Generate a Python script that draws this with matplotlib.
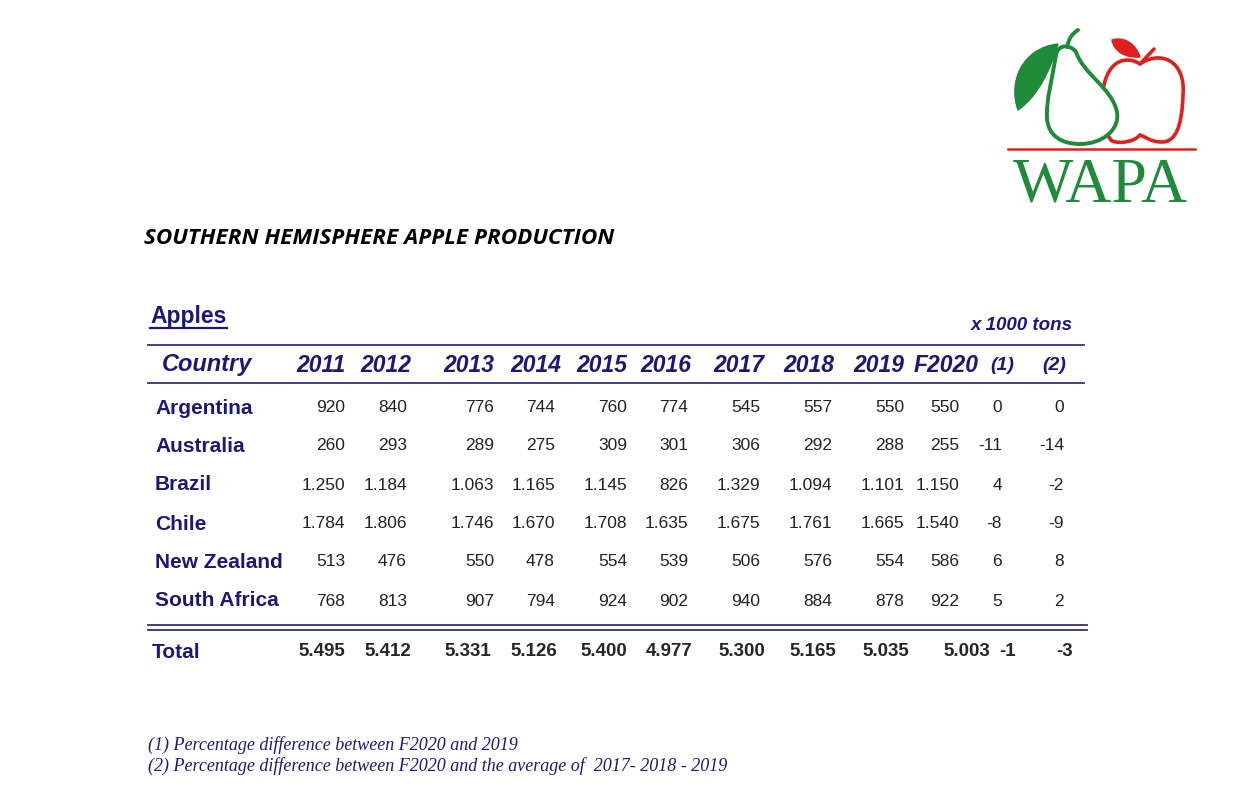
import matplotlib
matplotlib.use("Agg")
import matplotlib.pyplot as plt
from matplotlib.path import Path
from matplotlib.patches import PathPatch

# ---------------- data ----------------
title = "SOUTHERN HEMISPHERE APPLE PRODUCTION"
section = "Apples"
unit = "x 1000 tons"
columns = ["2011", "2012", "2013", "2014", "2015", "2016", "2017", "2018", "2019", "F2020", "(1)", "(2)"]
countries = ["Argentina", "Australia", "Brazil", "Chile", "New Zealand", "South Africa"]
argentina = [920, 840, 776, 744, 760, 774, 545, 557, 550, 550, 0, 0]
australia = [260, 293, 289, 275, 309, 301, 306, 292, 288, 255, -11, -14]
brazil = [1250, 1184, 1063, 1165, 1145, 826, 1329, 1094, 1101, 1150, 4, -2]
chile = [1784, 1806, 1746, 1670, 1708, 1635, 1675, 1761, 1665, 1540, -8, -9]
new_zealand = [513, 476, 550, 478, 554, 539, 506, 576, 554, 586, 6, 8]
south_africa = [768, 813, 907, 794, 924, 902, 940, 884, 878, 922, 5, 2]
total = [5495, 5412, 5331, 5126, 5400, 4977, 5300, 5165, 5035, 5003, -1, -3]
footnotes = ["(1) Percentage difference between F2020 and 2019",
             "(2) Percentage difference between F2020 and the average of  2017- 2018 - 2019"]
rows = [argentina, australia, brazil, chile, new_zealand, south_africa]

# ---------------- layout ----------------
W, H = 1235, 793
NAVY = "#1c1878"
LINE = "#2e2e8a"
NUM = "#222222"
GREEN = "#1e8a3a"
RED = "#e0201c"

fig = plt.figure(figsize=(W / 100, H / 100), dpi=100)
ax = fig.add_axes([0, 0, 1, 1])
ax.set_xlim(0, W)
ax.set_ylim(H, 0)
ax.axis("off")

SANS = ["Liberation Sans", "DejaVu Sans"]


def fmt(v, pct=False):
    if pct:
        return str(v)
    return f"{v:,}".replace(",", ".")


# title
ax.text(144, 239, title, fontsize=16.2, fontweight="bold", fontstyle="italic",
        family=["Open Sans", "DejaVu Sans"], color="black", va="center", ha="left")

# Apples heading
ax.text(150, 316, section, fontsize=16.5, fontweight="bold", family=SANS,
        color=NAVY, va="center", ha="left")
ax.plot([150, 227], [328, 328], color=NAVY, lw=1.6)
ax.text(1073, 326, unit, fontsize=13.5, fontweight="bold", fontstyle="italic",
        family=SANS, color=NAVY, va="center", ha="right")

# horizontal rules
ax.plot([148, 1084], [345, 345], color=LINE, lw=1.3)
ax.plot([148, 1084], [383, 383], color=LINE, lw=1.3)
ax.plot([148, 1087], [625, 625], color=LINE, lw=1.3)
ax.plot([148, 1087], [630, 630], color=LINE, lw=1.3)

# header
ax.text(207, 365, "Country", fontsize=17, fontweight="bold", fontstyle="italic",
        family=SANS, color=NAVY, va="center", ha="center")
header_right = [346, 411, 494, 561, 627, 691, 764, 834, 904, 979, 1014, 1066]
for c, xr in zip(columns, header_right):
    ax.text(xr, 365, c, fontsize=16.5 if c[0] != "(" else 14, fontweight="bold",
            fontstyle="italic", family=SANS, color=NAVY, va="center", ha="right")

# body
num_right = [345, 407, 494, 555, 627, 688, 760, 832, 904, 959, 1002, 1064]
row_y = [408, 446, 485, 524, 562, 601]
for name, vals, y in zip(countries, rows, row_y):
    ax.text(155, y, name, fontsize=15, fontweight="bold", family=SANS,
            color=NAVY, va="center", ha="left")
    for j, (v, xr) in enumerate(zip(vals, num_right)):
        ax.text(xr, y, fmt(v, pct=j >= 10), fontsize=12.5, family=SANS,
                color=NUM, va="center", ha="right")

# total
ax.text(152, 652, "Total", fontsize=15, fontweight="bold", family=SANS,
        color=NAVY, va="center", ha="left")
tot_right = [345, 411, 491, 557, 627, 693, 765, 836, 909, 990, 1016, 1073]
for j, (v, xr) in enumerate(zip(total, tot_right)):
    ax.text(xr, 652, fmt(v, pct=j >= 10), fontsize=13.5, fontweight="bold",
            family=SANS, color="#262626", va="center", ha="right")

# footnotes
for i, t in enumerate(footnotes):
    ax.text(148, 745 + 21 * i, t, fontsize=13, fontstyle="italic",
            family=["Liberation Serif", "DejaVu Serif"], color=NAVY,
            va="center", ha="left")

# ---------------- logo ----------------
C4 = Path.CURVE4


def bez(start, segs):
    verts = [start]
    codes = [Path.MOVETO]
    for seg in segs:
        verts.extend(seg)
        codes.extend([C4, C4, C4])
    verts.append(start)
    codes.append(Path.CLOSEPOLY)
    return Path(verts, codes)


# apple body
apple = bez((1140, 64), [
    [(1160, 50), (1186, 60), (1183, 95)],
    [(1182, 128), (1175, 142), (1162, 142)],
    [(1150, 142), (1144, 136), (1140, 135)],
    [(1134, 142), (1120, 144), (1112, 141)],
    [(1102, 130), (1099, 110), (1103, 90)],
    [(1108, 58), (1128, 56), (1140, 64)],
])
ax.add_patch(PathPatch(apple, facecolor="white", edgecolor=RED, lw=2.6, zorder=3))
ax.plot([1141, 1154], [63, 49], color=RED, lw=2.6, solid_capstyle="round", zorder=3)
apple_leaf = bez((1112, 40), [
    [(1124, 36), (1136, 44), (1140, 57)],
    [(1126, 58), (1114, 52), (1112, 40)],
])
ax.add_patch(PathPatch(apple_leaf, facecolor=RED, edgecolor=RED, lw=1, zorder=3))

# pear body
pear = bez((1056, 55), [
    [(1052, 80), (1046, 100), (1047, 118)],
    [(1048, 136), (1062, 144), (1080, 144)],
    [(1102, 144), (1120, 130), (1117, 112)],
    [(1112, 88), (1084, 75), (1076, 52)],
    [(1070, 44), (1058, 44), (1056, 55)],
])
ax.add_patch(PathPatch(pear, facecolor="white", edgecolor=GREEN, lw=2.8, zorder=4))
stem = Path([(1067, 47), (1069, 38), (1072, 34), (1078, 30)],
            [Path.MOVETO, C4, C4, C4])
ax.add_patch(PathPatch(stem, facecolor="none", edgecolor=GREEN, lw=2.8,
                       capstyle="round", zorder=4))
pear_leaf = bez((1058, 44), [
    [(1022, 48), (1008, 82), (1018, 110)],
    [(1036, 98), (1050, 72), (1058, 44)],
])
ax.add_patch(PathPatch(pear_leaf, facecolor=GREEN, edgecolor=GREEN, lw=1, zorder=4))

ax.plot([1008, 1195], [149, 149], color=RED, lw=1.8, zorder=4)
ax.text(1100, 202, "WAPA", fontsize=46, family=["Liberation Serif", "DejaVu Serif"],
        color=GREEN, va="baseline", ha="center", zorder=4)

fig.savefig("out.png", dpi=100)
